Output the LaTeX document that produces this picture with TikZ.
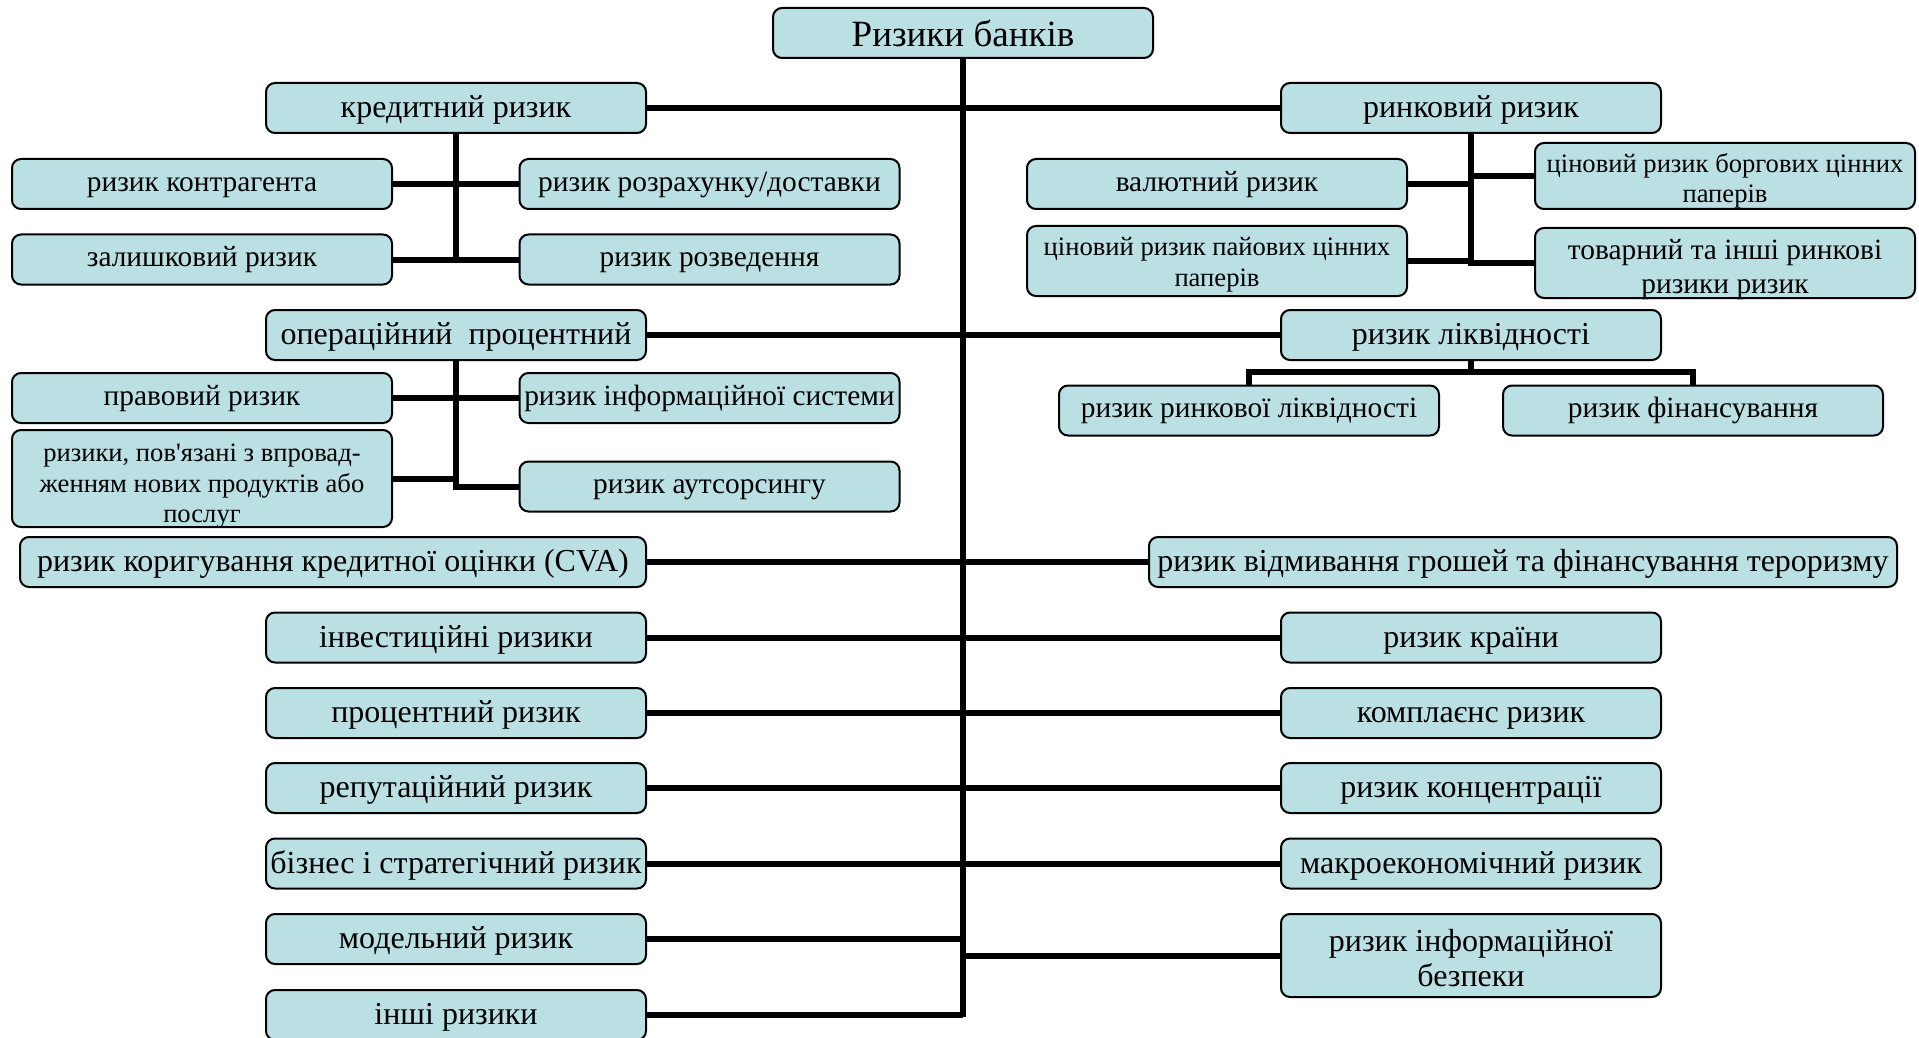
\documentclass[tikz,border=0pt]{standalone}
\usepackage{fontspec}
\setmainfont{Liberation Serif}[Ligatures=TeXOff]
\definecolor{boxfill}{HTML}{BAE0E3}
\newcommand{\mlt}[3]{\raisebox{#1}[#2][#2]{\begin{tabular}{@{}c@{}}#3\end{tabular}}}
\begin{document}
\begin{tikzpicture}[x=0.5pt,y=-0.5pt,
 box/.style={draw=black, line width=1pt, rounded corners=4.5pt, fill=boxfill, inner sep=1pt, align=center,
   minimum width=190pt, minimum height=25pt, font=\fontsize{16}{17.5}\selectfont,
   text height=12.1pt, text depth=2.6pt},
 ml/.style={text height=, text depth=},
 mid/.style={font=\fontsize{14.7}{16.5}\selectfont, text height=10.3pt, text depth=3.2pt},
 sm/.style={font=\fontsize{13.3}{15.3}\selectfont},
 conn/.style={line width=3pt},
]
\useasboundingbox (0,0) rectangle (1919,1038);
% title
\node[box, font=\fontsize{18.5}{20}\selectfont, text height=15.5pt, text depth=1.5pt] (title) at (963,33) {Ризики банків};
% left main column
\node[box] (cred) at (456,108) {кредитний ризик};
\node[box, mid] (kontr) at (202,184) {ризик контрагента};
\node[box, mid] (zal) at (202,259.5) {залишковий ризик};
\node[box, mid] (rozr) at (709.5,184) {ризик розрахунку/доставки};
\node[box, mid] (rozv) at (709.5,259.5) {ризик розведення};
\node[box] (oper) at (456,335) {операційний\ \ процентний};
\node[box, mid] (prav) at (202,398) {правовий ризик};
\node[box, sm, ml, minimum height=48.5pt] (novi) at (202,478.5) {\mlt{-7.4pt}{23.25pt}{ризики, пов'язані з впровад-\\женням нових продуктів або\\послуг}};
\node[box, mid] (infs) at (709.5,398) {ризик інформаційної системи};
\node[box, mid] (auts) at (709.5,486.5) {ризик аутсорсингу};
\node[box, minimum width=313pt] (cva) at (333,562) {ризик коригування кредитної оцінки (CVA)};
\node[box] (invest) at (456,637.5) {інвестиційні ризики};
\node[box] (proc) at (456,713) {процентний ризик};
\node[box] (rep) at (456,788) {репутаційний ризик};
\node[box] (biz) at (456,863.5) {бізнес і стратегічний ризик};
\node[box] (model) at (456,939) {модельний ризик};
\node[box] (inshi) at (456,1015) {інші ризики};
% right main column
\node[box] (market) at (1471,108) {ринковий ризик};
\node[box, mid] (val) at (1217,184) {валютний ризик};
\node[box, sm, ml, minimum height=35pt] (pai) at (1217,261) {\mlt{-5.65pt}{16.5pt}{ціновий ризик пайових цінних\\паперів}};
\node[box, sm, ml, minimum height=33pt] (borg) at (1725,176) {\mlt{-6.25pt}{15.5pt}{ціновий ризик боргових цінних\\паперів}};
\node[box, ml, font=\fontsize{14.7}{17.1}\selectfont, minimum height=35pt] (tov) at (1725,263) {\mlt{-6.8pt}{16.5pt}{товарний та інші ринкові\\ризики ризик}};
\node[box] (liq) at (1471,335) {ризик ліквідності};
\node[box, mid] (rliq) at (1249,410.5) {ризик ринкової ліквідності};
\node[box, mid] (fin) at (1693,410.5) {ризик фінансування};
\node[box, minimum width=374pt] (aml) at (1523,562) {ризик відмивання грошей та фінансування тероризму};
\node[box] (kr) at (1471,637.5) {ризик країни};
\node[box] (kompl) at (1471,713) {комплаєнс ризик};
\node[box] (konc) at (1471,788) {ризик концентрації};
\node[box] (makro) at (1471,863.5) {макроекономічний ризик};
\node[box, ml, font=\fontsize{16}{17.75}\selectfont, minimum height=41.5pt] (bezp) at (1471,955.5) {\mlt{-7.5pt}{19.75pt}{ризик інформаційної\\безпеки}};
% connectors
\coordinate (tend) at (963,1017);
\coordinate (lj) at (1471,372);
\draw[conn] (title.south) -- (tend);
\draw[conn] (cred.east) -- (market.west);
\draw[conn] (oper.east) -- (liq.west);
\draw[conn] (cva.east) -- (aml.west);
\draw[conn] (invest.east) -- (kr.west);
\draw[conn] (proc.east) -- (kompl.west);
\draw[conn] (rep.east) -- (konc.west);
\draw[conn] (biz.east) -- (makro.west);
\draw[conn] (model.east) -- (model.east -| tend);
\draw[conn] (bezp.west) -- (bezp.west -| tend);
\draw[conn] (inshi.east) -- (inshi.east -| tend);
% credit branch
\draw[conn] (cred.south) -- ([yshift=-1.4pt]cred.south |- zal.east);
\draw[conn] (kontr.east) -- (rozr.west);
\draw[conn] (zal.east) -- (rozv.west);
% operational branch
\draw[conn] (oper.south) -- (oper.south |- auts.west) -- (auts.west);
\draw[conn] (prav.east) -- (infs.west);
\draw[conn] (novi.east) -- (novi.east -| oper.south);
% market branch
\draw[conn] (market.south) -- (market.south |- tov.west) -- (tov.west);
\draw[conn] (val.east) -- (val.east -| market.south);
\draw[conn] (borg.west) -- (borg.west -| market.south);
\draw[conn] (pai.east) -- (pai.east -| market.south);
% liquidity branch
\draw[conn] (liq.south) -- (lj);
\draw[conn] (rliq.north) -- (rliq.north |- lj) -- (fin.north |- lj) -- (fin.north);
\end{tikzpicture}
\end{document}
